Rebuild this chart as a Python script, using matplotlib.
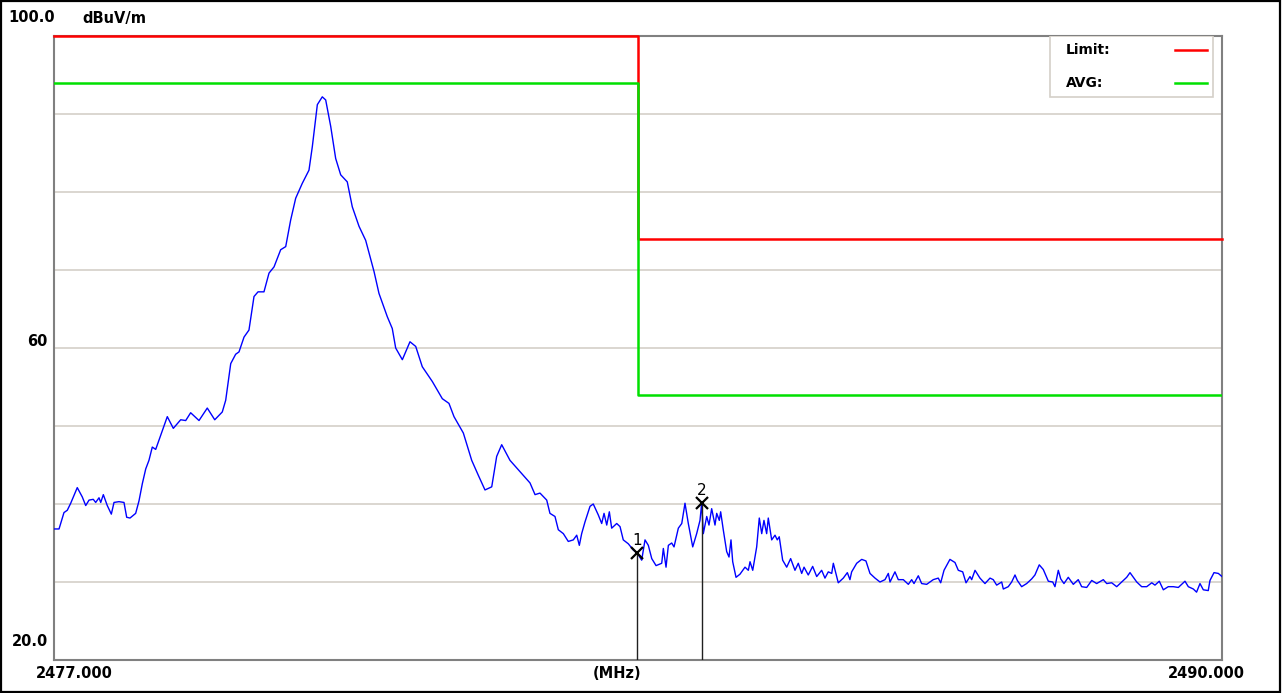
import matplotlib
matplotlib.use("Agg")
import matplotlib.pyplot as plt
from matplotlib.patches import Rectangle

# spectrum trace (MHz, dBuV/m)
freq_mhz = [
    2477.000, 2477.056, 2477.111, 2477.148, 2477.186, 2477.223, 2477.259, 2477.315,
    2477.353, 2477.390, 2477.437, 2477.464, 2477.501, 2477.520, 2477.549, 2477.593,
    2477.638, 2477.668, 2477.723, 2477.779, 2477.809, 2477.846, 2477.909, 2477.946,
    2477.983, 2478.021, 2478.057, 2478.094, 2478.132, 2478.261, 2478.328, 2478.410,
    2478.466, 2478.521, 2478.614, 2478.706, 2478.789, 2478.873, 2478.911, 2478.967,
    2479.022, 2479.059, 2479.115, 2479.170, 2479.226, 2479.271, 2479.337, 2479.393,
    2479.449, 2479.523, 2479.579, 2479.634, 2479.690, 2479.763, 2479.838, 2479.875,
    2479.931, 2479.986, 2480.024, 2480.080, 2480.135, 2480.191, 2480.264, 2480.320,
    2480.395, 2480.469, 2480.562, 2480.617, 2480.710, 2480.765, 2480.803, 2480.877,
    2480.962, 2481.026, 2481.099, 2481.211, 2481.322, 2481.396, 2481.452, 2481.556,
    2481.649, 2481.722, 2481.797, 2481.872, 2481.927, 2481.983, 2482.075, 2482.205,
    2482.298, 2482.354, 2482.409, 2482.484, 2482.520, 2482.576, 2482.613, 2482.669,
    2482.724, 2482.780, 2482.818, 2482.847, 2482.873, 2482.910, 2482.966, 2483.002,
    2483.058, 2483.096, 2483.122, 2483.152, 2483.181, 2483.207, 2483.263, 2483.300,
    2483.336, 2483.392, 2483.448, 2483.492, 2483.541, 2483.578, 2483.615, 2483.653,
    2483.701, 2483.764, 2483.782, 2483.812, 2483.838, 2483.875, 2483.901, 2483.949,
    2483.987, 2484.023, 2484.060, 2484.109, 2484.153, 2484.190, 2484.209, 2484.227,
    2484.265, 2484.290, 2484.320, 2484.357, 2484.376, 2484.405, 2484.420, 2484.449,
    2484.487, 2484.513, 2484.535, 2484.554, 2484.591, 2484.635, 2484.691, 2484.728,
    2484.747, 2484.777, 2484.821, 2484.850, 2484.877, 2484.902, 2484.932, 2484.950,
    2484.988, 2485.025, 2485.050, 2485.072, 2485.110, 2485.155, 2485.199, 2485.247,
    2485.284, 2485.322, 2485.348, 2485.395, 2485.444, 2485.489, 2485.544, 2485.581,
    2485.618, 2485.656, 2485.674, 2485.729, 2485.785, 2485.830, 2485.859, 2485.878,
    2485.934, 2485.990, 2486.037, 2486.082, 2486.138, 2486.193, 2486.249, 2486.286,
    2486.305, 2486.360, 2486.397, 2486.453, 2486.509, 2486.546, 2486.572, 2486.620,
    2486.657, 2486.713, 2486.786, 2486.842, 2486.869, 2486.906, 2486.972, 2487.028,
    2487.065, 2487.114, 2487.151, 2487.195, 2487.214, 2487.251, 2487.306, 2487.362,
    2487.418, 2487.454, 2487.492, 2487.548, 2487.566, 2487.621, 2487.659, 2487.696,
    2487.722, 2487.770, 2487.826, 2487.882, 2487.918, 2487.966, 2488.011, 2488.067,
    2488.116, 2488.141, 2488.178, 2488.205, 2488.241, 2488.289, 2488.345, 2488.400,
    2488.438, 2488.494, 2488.550, 2488.605, 2488.679, 2488.717, 2488.772, 2488.828,
    2488.884, 2488.939, 2488.976, 2489.013, 2489.051, 2489.106, 2489.162, 2489.218,
    2489.254, 2489.302, 2489.347, 2489.402, 2489.458, 2489.514, 2489.588, 2489.625,
    2489.681, 2489.717, 2489.755, 2489.792, 2489.847, 2489.866, 2489.911, 2489.959,
    2490.000,
]
level_dbuv = [
    36.8, 36.8, 38.9, 39.2, 40.1, 41.1, 42.1, 40.9,
    39.8, 40.5, 40.6, 40.2, 40.8, 40.2, 41.2, 39.8,
    38.7, 40.2, 40.3, 40.2, 38.3, 38.2, 38.8, 40.4,
    42.6, 44.5, 45.6, 47.3, 47.0, 51.2, 49.7, 50.8,
    50.7, 51.7, 50.7, 52.3, 50.8, 51.8, 53.3, 58.0,
    59.2, 59.5, 61.4, 62.3, 66.6, 67.2, 67.2, 69.6,
    70.4, 72.6, 73.0, 76.4, 79.2, 81.1, 82.8, 85.8,
    91.2, 92.2, 91.8, 88.4, 84.3, 82.2, 81.3, 78.1,
    75.6, 73.8, 69.8, 67.0, 64.0, 62.5, 60.0, 58.5,
    60.8, 60.2, 57.6, 55.7, 53.5, 52.9, 51.2, 49.1,
    45.6, 43.7, 41.8, 42.2, 46.1, 47.6, 45.6, 43.9,
    42.7, 41.2, 41.4, 40.5, 38.8, 38.4, 36.7, 36.2,
    35.2, 35.4, 36.0, 34.7, 36.2, 37.7, 39.7, 40.0,
    38.6, 37.5, 38.8, 37.3, 39.0, 36.9, 37.5, 37.1,
    35.4, 34.9, 34.1, 33.7, 32.8, 35.4, 34.7, 33.0,
    32.1, 32.4, 34.3, 31.9, 34.7, 35.0, 34.5, 36.9,
    37.5, 40.1, 37.5, 34.5, 36.2, 37.9, 40.1, 36.2,
    38.4, 37.3, 39.4, 37.3, 38.8, 37.9, 39.0, 36.7,
    33.9, 33.2, 35.4, 32.6, 30.6, 31.0, 31.9, 31.5,
    32.6, 31.5, 34.5, 38.2, 36.2, 37.9, 36.2, 38.2,
    35.4, 36.0, 35.4, 35.8, 32.8, 31.9, 33.0, 31.5,
    32.4, 31.1, 31.9, 30.9, 32.0, 30.7, 31.5, 30.5,
    31.3, 31.1, 32.4, 29.9, 30.5, 31.2, 30.3, 31.3,
    32.4, 32.9, 32.7, 31.1, 30.5, 30.0, 30.3, 31.1,
    30.0, 31.3, 30.3, 30.3, 29.7, 30.3, 29.8, 30.8,
    29.8, 29.7, 30.3, 30.5, 29.9, 31.5, 32.9, 32.5,
    31.5, 31.3, 29.9, 30.7, 30.3, 31.5, 30.5, 29.8,
    30.5, 30.3, 29.6, 30.0, 29.1, 29.4, 30.0, 30.9,
    30.2, 29.4, 29.8, 30.4, 30.9, 32.2, 31.6, 30.1,
    30.0, 29.4, 31.5, 30.4, 29.8, 30.6, 29.7, 30.3,
    29.4, 29.3, 30.2, 29.8, 30.3, 29.8, 29.9, 29.4,
    30.0, 30.6, 31.2, 30.6, 30.0, 29.4, 29.4, 29.9,
    29.6, 30.1, 29.0, 29.4, 29.4, 29.3, 30.1, 29.4,
    29.1, 28.7, 29.8, 29.0, 28.9, 30.2, 31.2, 31.1,
    30.7,
]

# limit lines (step at band edge)
limit_freq = [2477.0, 2483.5, 2490.0]
peak_limit = [100.0, 74.0, 74.0]
avg_limit = [94.0, 54.0, 54.0]

marker_freq = [2483.492, 2484.209]
marker_level = [33.7, 40.1]
marker_names = ["1", "2"]

W, H = 1283, 693
fig = plt.figure(figsize=(W / 100, H / 100), dpi=100)
fig.patch.set_facecolor("white")
fig.patches.append(Rectangle((0.001, 0.002), 0.997, 0.996, transform=fig.transFigure,
                             fill=False, edgecolor="black", linewidth=1.6))

ax = fig.add_axes([54 / W, 33 / H, 1168 / W, 624 / H])
ax.set_xlim(2477.0, 2490.0)
ax.set_ylim(20.0, 100.0)
ax.set_xticks([])
ax.set_yticks([])
for s in ax.spines.values():
    s.set_color("#808080")
    s.set_linewidth(1.5)

for lvl in range(30, 100, 10):
    ax.axhline(lvl, color="#d4d0c8", linewidth=1.2, zorder=1)

peak_line, = ax.step(limit_freq, peak_limit, where="post", color="#ff0000",
                     linewidth=1.8, clip_on=False, zorder=3)
avg_line, = ax.step(limit_freq, avg_limit, where="post", color="#00e000",
                    linewidth=1.8, zorder=3)
ax.plot(freq_mhz, level_dbuv, color="#0000ff", linewidth=1.0, zorder=4)

ax.vlines(marker_freq, 20.0, marker_level, color="#202020", linewidth=1.0, zorder=5)
ax.plot(marker_freq, marker_level, linestyle="", marker="x", color="black",
        markersize=8, markeredgewidth=1.6, zorder=6)
for f, l, n in zip(marker_freq, marker_level, marker_names):
    ax.annotate(n, (f, l), xytext=(0, 13), textcoords="offset pixels",
                ha="center", va="center", fontsize=11, color="black")

# legend box: text on the left, line sample on the right
ax.add_patch(Rectangle((0.8527, 0.9022), 0.1396, 0.0978, transform=ax.transAxes,
                       facecolor="white", edgecolor="#d4d0c8", linewidth=1.2, zorder=7))
for line, name, ty in [(peak_line, "Limit:", 0.9776), (avg_line, "AVG:", 0.9247)]:
    ax.text(0.8664, ty, name, transform=ax.transAxes, ha="left", va="center",
            fontsize=10, fontweight="bold", zorder=8)
    ax.plot([0.9598, 0.9872], [ty, ty], transform=ax.transAxes,
            color=line.get_color(), linewidth=1.8, zorder=8)

lab = dict(fontsize=10.5, fontweight="bold", color="black")
fig.text(8 / W, 1 - 18 / H, "100.0", ha="left", va="center", **lab)
fig.text(82 / W, 1 - 18 / H, "dBuV/m", ha="left", va="center", **lab)
fig.text(48 / W, 1 - 342 / H, "60", ha="right", va="center", **lab)
fig.text(48 / W, 1 - 641 / H, "20.0", ha="right", va="center", **lab)
fig.text(36 / W, 1 - 673 / H, "2477.000", ha="left", va="center", **lab)
fig.text(617 / W, 1 - 673 / H, "(MHz)", ha="center", va="center", **lab)
fig.text(1168 / W, 1 - 673 / H, "2490.000", ha="left", va="center", **lab)

fig.savefig("out.png", dpi=100)
